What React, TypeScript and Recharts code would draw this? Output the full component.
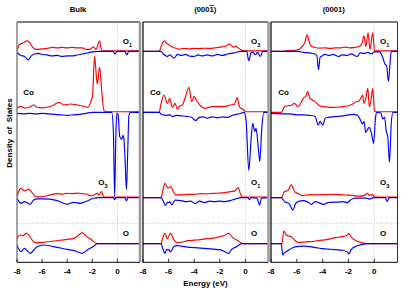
import React from "react";
import { LineChart, Line, XAxis, YAxis, ReferenceLine } from "recharts";

type Pt = [number, number];

const energyTicks = [-8, -6, -4, -2, 0];
const energyDomain: [number, number] = [-8, 1.8];

// Bulk
const bulkO1Up: Pt[] = [[-8, 1], [-7.8, 7], [-7.5, 8.5], [-7.2, 10.5], [-7.0, 9], [-6.8, 5], [-6.5, 2], [-6.0, 2.5], [-5.6, 3], [-5.2, 4], [-4.8, 3.5], [-4.4, 4], [-4.0, 3.5], [-3.6, 4], [-3.2, 3.5], [-2.8, 3.5], [-2.5, 2], [-2.2, 2], [-1.9, 4.5], [-1.7, 2], [-1.55, 7], [-1.42, 10.5], [-1.3, 3], [-1.2, 0.6], [1.8, 0.6]];
const bulkO1Dn: Pt[] = [[-8, 1], [-7.7, 4], [-7.4, 5], [-7.1, 8.5], [-6.9, 5], [-6.6, 2.5], [-6.3, 2], [-6.0, 3], [-5.6, 3.5], [-5.2, 4.5], [-4.8, 4], [-4.4, 5], [-4.0, 4.5], [-3.6, 4.5], [-3.2, 3.5], [-2.8, 2.5], [-2.4, 1.5], [-2.0, 0.5], [-1.5, 0], [-0.35, 0], [-0.2, 2.5], [-0.05, 0], [0.6, 0], [0.75, 3.5], [0.9, 0], [1.8, 0]];
const bulkCoUp: Pt[] = [[-8, 4], [-7.75, 6], [-7.35, 4.3], [-7.0, 5], [-6.67, 7.3], [-6.4, 5], [-6.0, 4.5], [-5.6, 5], [-5.07, 7.3], [-4.67, 10], [-4.27, 7.3], [-3.74, 8.3], [-3.2, 7.3], [-2.67, 6], [-2.35, 5], [-2.14, 10], [-1.98, 16.7], [-1.82, 56], [-1.68, 36.7], [-1.6, 28.3], [-1.42, 45], [-1.26, 23.3], [-1.07, 1.5], [-0.8, 0.6], [1.8, 0.6]];
const bulkCoDn: Pt[] = [[-8, 1], [-7.5, 1.5], [-7.0, 1], [-6.5, 1.5], [-6.0, 1], [-5.5, 1.5], [-5.0, 2], [-4.5, 2.5], [-4.0, 3], [-3.5, 2.5], [-3.0, 2], [-2.5, 1], [-2.0, 0], [-0.45, 0], [-0.32, 20], [-0.22, 84], [-0.12, 20], [-0.05, 1], [0.05, 2], [0.18, 24], [0.34, 27], [0.45, 23], [0.52, 27], [0.62, 50], [0.72, 77], [0.82, 40], [0.92, 3], [1.05, 0], [1.8, 0]];
const bulkO3Up: Pt[] = [[-8, 1], [-7.79, 8.3], [-7.68, 9.3], [-7.41, 6.7], [-7.07, 8.3], [-6.8, 5], [-6.5, 1], [-6.0, 0.8], [-5.34, 2.7], [-4.8, 4], [-4.4, 3.5], [-4.0, 4.3], [-3.6, 4], [-3.2, 4.5], [-2.8, 4], [-2.4, 3.3], [-2.13, 1.7], [-1.87, 2.7], [-1.6, 4.3], [-1.47, 2.5], [-1.28, 6], [-1.07, 0.5], [1.8, 0.5]];
const bulkO3Dn: Pt[] = [[-8, 0.7], [-7.79, 4.7], [-7.68, 5.7], [-7.41, 4], [-7.2, 5], [-6.95, 6.7], [-6.67, 2.3], [-6.4, 1.3], [-5.9, 1.3], [-5.4, 1.5], [-4.8, 3], [-4.0, 6.7], [-3.5, 4.7], [-2.95, 5.7], [-2.4, 3.3], [-1.9, 0.7], [-1.6, 0], [-0.35, 0], [-0.22, 2], [-0.1, 0], [0.6, 0], [0.72, 3.3], [0.85, 0], [1.8, 0]];
const bulkOUp: Pt[] = [[-8, 4.7], [-7.79, 8.7], [-7.53, 8], [-7.26, 10.3], [-7.07, 8.7], [-6.8, 3.7], [-6.53, 1], [-5.87, 1.3], [-5.07, 2.7], [-4.0, 4.3], [-3.47, 5.3], [-3.07, 8.7], [-2.8, 11], [-2.54, 8], [-2.14, 4.7], [-1.6, 0], [1.8, 0]];
const bulkODn: Pt[] = [[-8, 1.3], [-7.68, 8], [-7.41, 4.7], [-6.93, 9.7], [-6.67, 6.3], [-6.4, 3], [-5.87, 1.3], [-5.07, 3], [-4.0, 5.7], [-3.34, 7.3], [-2.8, 9.7], [-2.4, 6.3], [-1.87, 2.3], [-1.6, 0], [1.8, 0]];

// (000-1) surface
const negO3Up: Pt[] = [[-8, 0], [-6.75, 0], [-6.55, 6], [-6.36, 10.7], [-6.2, 8.5], [-5.97, 6.7], [-5.6, 4], [-5.19, 2.3], [-4.8, 3], [-4.4, 2.5], [-4.0, 3], [-3.6, 2.8], [-3.2, 3.2], [-2.8, 3], [-2.4, 3.5], [-2.0, 4.3], [-1.6, 5], [-1.22, 7.3], [-1.0, 4.5], [-0.78, 5], [-0.5, 3], [-0.13, 0.5], [1.8, 0.5]];
const negO3Dn: Pt[] = [[-8, 0], [-6.62, 0], [-6.36, 3], [-6.1, 5], [-5.9, 3.5], [-5.58, 6.7], [-5.3, 3], [-5.0, 4], [-4.7, 3], [-4.4, 4.5], [-4.02, 5], [-3.7, 3.5], [-3.37, 4.5], [-3.0, 3.5], [-2.6, 4.5], [-2.2, 3], [-1.8, 4], [-1.4, 2.5], [-0.9, 1.5], [-0.39, 0], [0.1, 0], [0.26, 9.3], [0.45, 1], [0.6, 1], [0.78, 3.3], [0.95, 1], [1.17, 5], [1.35, 0], [1.8, 0]];
const negCoUp: Pt[] = [[-8, 0], [-6.75, 0], [-6.6, 8], [-6.36, 17.3], [-6.1, 9], [-5.92, 14], [-5.71, 5], [-5.5, 9], [-5.32, 3.3], [-5.12, 6.3], [-4.93, 7.3], [-4.72, 14], [-4.41, 25], [-4.2, 10.7], [-4.02, 15.7], [-3.84, 12.3], [-3.5, 6.3], [-3.12, 4], [-2.6, 5.7], [-2.08, 5.7], [-1.56, 6], [-1.17, 7.3], [-0.85, 8], [-0.65, 14.7], [-0.47, 5.7], [-0.13, 2.3], [0, 0.6], [1.8, 0.6]];
const negCoDn: Pt[] = [[-8, 0], [-6.75, 0], [-6.5, 2.5], [-6.2, 3], [-5.9, 2.5], [-5.71, 4.3], [-5.4, 3], [-5.0, 3.5], [-4.6, 4], [-4.2, 5], [-3.9, 8.3], [-3.6, 5], [-3.3, 4.5], [-3.0, 6], [-2.6, 4.5], [-2.2, 5.5], [-1.8, 4.5], [-1.4, 5], [-1.0, 3], [-0.5, 1.5], [-0.1, 0], [0.05, 8], [0.26, 58], [0.45, 25], [0.57, 11], [0.73, 19], [0.83, 16], [1.0, 35], [1.12, 49], [1.28, 15], [1.43, 0], [1.8, 0]];
const negO1Up: Pt[] = [[-8, 0], [-6.6, 0], [-6.45, 7], [-6.28, 14.3], [-6.05, 9.3], [-5.84, 11], [-5.6, 5], [-5.45, 2.7], [-5.0, 2.7], [-4.5, 3.3], [-4.0, 3.3], [-3.5, 4], [-3.0, 3.8], [-2.5, 4.3], [-2.0, 4.5], [-1.6, 5], [-1.17, 6], [-0.85, 6.5], [-0.57, 10], [-0.4, 4], [-0.26, 0.6], [1.8, 0.6]];
const negO1Dn: Pt[] = [[-8, 0], [-6.6, 0], [-6.4, 4], [-6.25, 8], [-6.1, 4.5], [-6.0, 5], [-5.9, 4], [-5.75, 7.3], [-5.5, 2.5], [-5.0, 3], [-4.6, 4], [-4.3, 3.5], [-3.9, 6], [-3.6, 3.5], [-3.2, 5], [-2.8, 3.5], [-2.4, 4], [-2.0, 3.5], [-1.6, 4], [-1.2, 3], [-0.8, 1.5], [-0.35, 0], [0.2, 0], [0.3, 2], [0.45, 0], [0.9, 0.5], [1.1, 7.3], [1.25, 0.5], [1.8, 0]];
const negOUp: Pt[] = [[-8, 0], [-6.6, 0], [-6.45, 6], [-6.3, 10.3], [-6.1, 5], [-5.85, 10.3], [-5.6, 4], [-5.35, 1], [-5.0, 1.5], [-4.5, 3], [-4.0, 3.5], [-3.5, 4], [-3.0, 5], [-2.5, 5.5], [-2.0, 7], [-1.6, 8.5], [-1.3, 10.3], [-1.0, 6], [-0.6, 3], [-0.2, 0], [1.8, 0]];
const negODn: Pt[] = [[-8, 0], [-6.6, 0], [-6.45, 5], [-6.3, 9.7], [-6.15, 6], [-6.0, 6], [-5.85, 8], [-5.6, 3], [-5.35, 2], [-5.0, 2.5], [-4.5, 3.5], [-4.0, 4], [-3.5, 4.5], [-3.0, 5], [-2.5, 5.5], [-2.0, 6], [-1.6, 8], [-1.3, 9.7], [-1.1, 6], [-0.7, 3], [-0.3, 0], [1.8, 0]];

// (0001) surface
const posO1Up: Pt[] = [[-8, 0], [-7.1, 0], [-6.8, 0.8], [-6.3, 1], [-6.0, 1.5], [-5.77, 2.5], [-5.51, 6], [-5.38, 9], [-5.2, 16.7], [-5.05, 10], [-4.9, 5.5], [-4.6, 4], [-4.2, 3.3], [-3.8, 3.5], [-3.4, 3], [-3.0, 3.5], [-2.6, 3.5], [-2.3, 4.3], [-1.9, 3.5], [-1.5, 4], [-1.15, 5], [-0.95, 8], [-0.8, 15.7], [-0.65, 5], [-0.48, 18.5], [-0.33, 2], [-0.12, 18.5], [0.02, 1], [0.1, 0.6], [1.8, 0.6]];
const posO1Dn: Pt[] = [[-8, 0], [-5.9, 0], [-5.5, 1], [-5.0, 1.5], [-4.6, 2.5], [-4.45, 4], [-4.32, 18.3], [-4.2, 6], [-4.05, 4.5], [-3.8, 3], [-3.5, 4], [-3.2, 3], [-2.76, 5], [-2.5, 3.5], [-2.1, 4], [-1.8, 2.5], [-1.31, 5], [-1.1, 1.5], [-0.8, 2], [-0.5, 1], [-0.2, 2.5], [0, 0.5], [0.4, 0.5], [0.6, 4], [0.84, 13], [0.95, 14], [1.1, 30], [1.22, 12], [1.32, 0], [1.8, 0]];
const posCoUp: Pt[] = [[-8, 0], [-7.2, 0], [-6.95, 5.7], [-6.7, 6.5], [-6.43, 7], [-6.2, 9], [-6.03, 7], [-5.91, 5.7], [-5.7, 9], [-5.51, 14], [-5.3, 16], [-5.17, 20.7], [-4.98, 14], [-4.75, 12], [-4.59, 10.7], [-4.2, 6.3], [-3.8, 5.5], [-3.4, 5], [-3.0, 5], [-2.6, 5.5], [-2.09, 6.3], [-1.7, 8], [-1.5, 10], [-1.2, 11], [-1.0, 15], [-0.9, 17.3], [-0.8, 9], [-0.65, 14], [-0.5, 24], [-0.38, 5.7], [-0.22, 15], [-0.12, 24], [0.02, 1], [0.1, 0.6], [1.8, 0.6]];
const posCoDn: Pt[] = [[-8, 1], [-7.0, 1.5], [-6.5, 1.5], [-6.0, 2.5], [-5.5, 2.5], [-5.0, 3], [-4.6, 4], [-4.33, 12.7], [-4.2, 9], [-4.1, 11], [-3.98, 12.7], [-3.8, 6], [-3.54, 5], [-3.2, 4.5], [-2.8, 4], [-2.4, 3.5], [-2.0, 2.5], [-1.57, 2], [-1.3, 3], [-1.1, 7], [-0.92, 11.7], [-0.8, 9], [-0.66, 20], [-0.52, 17], [-0.39, 15], [-0.2, 22], [-0.05, 31], [0.1, 5], [0.2, 0], [0.5, 0.5], [0.66, 6.7], [0.8, 5], [0.92, 18], [1.05, 25], [1.18, 50], [1.32, 10], [1.45, 0], [1.8, 0]];
const posO3Up: Pt[] = [[-8, 0], [-7.2, 0], [-6.95, 6], [-6.7, 7], [-6.43, 12.7], [-6.3, 10], [-6.17, 6], [-5.9, 4], [-5.6, 2], [-5.2, 2.7], [-4.8, 3], [-4.4, 2.7], [-4.0, 3], [-3.6, 3], [-3.2, 3.3], [-2.8, 3], [-2.4, 2.7], [-2.0, 2.5], [-1.6, 2], [-1.2, 1.5], [-0.8, 2], [-0.52, 4.3], [-0.39, 2], [-0.3, 2.5], [-0.13, 3], [0, 0.6], [1.8, 0.6]];
const posO3Dn: Pt[] = [[-8, 0], [-7.2, 0], [-6.95, 4], [-6.6, 6], [-6.3, 12.3], [-6.1, 6], [-5.91, 4], [-5.5, 3], [-5.2, 4], [-4.85, 6.7], [-4.6, 4], [-4.3, 5], [-3.94, 6.7], [-3.6, 5], [-3.2, 4.5], [-2.8, 4.5], [-2.4, 4], [-2.09, 5], [-1.8, 2], [-1.5, 0.5], [-0.6, 0.5], [-0.4, 1.5], [0, 0], [0.85, 0], [1.0, 4], [1.15, 0], [1.8, 0]];
const posOUp: Pt[] = [[-8, 0], [-7.15, 0], [-7.01, 12.7], [-6.82, 8.7], [-6.6, 7.5], [-6.43, 7], [-6.2, 4], [-5.91, 1.3], [-5.5, 1.5], [-5.0, 2], [-4.5, 2.7], [-4.0, 3.5], [-3.5, 4.5], [-3.0, 6], [-2.5, 7], [-2.1, 8.5], [-1.97, 10.3], [-1.75, 6], [-1.4, 3], [-1.0, 1], [-0.52, 0], [1.8, 0]];
const posODn: Pt[] = [[-8, 0], [-7.2, 0], [-7.09, 11.3], [-6.95, 9], [-6.82, 8], [-6.6, 6], [-6.3, 4], [-6.03, 3], [-5.5, 2.5], [-5.0, 3], [-4.5, 4], [-4.0, 5], [-3.5, 5.5], [-3.0, 6], [-2.5, 6.5], [-2.1, 8], [-1.97, 10.3], [-1.8, 6], [-1.4, 2.5], [-1.0, 1], [-0.52, 0], [1.8, 0]];

// vertical offsets of the four stacked curves (y axis units)
const stackBase = [210.6, 149.8, 64.6, 18.6];
const sepLine = 39;
const yMax = 240;

type Species = { name: string; sub?: string; x: number; y: number };

type PanelSpec = {
  title: string;
  bar?: boolean;
  left: number;
  width: number;
  leftEdge: string;
  rightEdge: string;
  rightW: number;
  curves: [Pt[], Pt[]][];
  labels: Species[];
};

const panels: PanelSpec[] = [
  {
    title: "Bulk",
    left: 16.5,
    width: 123,
    leftEdge: "#666",
    rightEdge: "#999",
    rightW: 2.5,
    curves: [[bulkO1Up, bulkO1Dn], [bulkCoUp, bulkCoDn], [bulkO3Up, bulkO3Dn], [bulkOUp, bulkODn]],
    labels: [
      { name: "O", sub: "1", x: 122.7, y: 44 },
      { name: "Co", x: 23.3, y: 94.5 },
      { name: "O", sub: "3", x: 98.3, y: 185 },
      { name: "O", x: 122.7, y: 236 },
    ],
  },
  {
    title: "(0001)",
    bar: true,
    left: 142.5,
    width: 125.5,
    leftEdge: "#000",
    rightEdge: "#999",
    rightW: 2.5,
    curves: [[negO3Up, negO3Dn], [negCoUp, negCoDn], [negO1Up, negO1Dn], [negOUp, negODn]],
    labels: [
      { name: "O", sub: "3", x: 251, y: 44 },
      { name: "Co", x: 150, y: 95 },
      { name: "O", sub: "1", x: 251, y: 185 },
      { name: "O", x: 251, y: 236 },
    ],
  },
  {
    title: "(0001)",
    left: 270.5,
    width: 126.5,
    leftEdge: "#000",
    rightEdge: "#333",
    rightW: 1,
    curves: [[posO1Up, posO1Dn], [posCoUp, posCoDn], [posO3Up, posO3Dn], [posOUp, posODn]],
    labels: [
      { name: "O", sub: "1", x: 380, y: 44 },
      { name: "Co", x: 278.3, y: 95 },
      { name: "O", sub: "3", x: 380, y: 185 },
      { name: "O", x: 380, y: 236 },
    ],
  },
];

const rows = (pts: Pt[], base: number, sign: number) =>
  pts.map(([e, v]) => ({ e, y: base + sign * v }));

const BottomTick = (props: any) => {
  const { x, y, payload } = props;
  return (
    <g>
      <line x1={x} x2={x} y1={y} y2={y - 3.5} stroke="#000" strokeWidth={0.8} />
      <text x={x} y={y + 12} textAnchor="middle" fontSize={8} fontWeight="bold" fill="#000">
        {payload.value}
      </text>
    </g>
  );
};

const TopTick = (props: any) => {
  const { x, y } = props;
  return <line x1={x} x2={x} y1={y} y2={y + 3.5} stroke="#000" strokeWidth={0.8} />;
};

const pad = 8;

function Panel({ p }: { p: PanelSpec }) {
  return (
    <div style={{ position: "absolute", left: p.left - pad, top: 0 }}>
      <LineChart width={p.width + 2 * pad} height={291} margin={{ top: 22, right: pad, bottom: 14.7, left: pad }}>
        <XAxis
          dataKey="e"
          type="number"
          domain={energyDomain}
          ticks={energyTicks}
          interval={0}
          allowDataOverflow
          height={14}
          tickSize={0}
          tickMargin={0}
          axisLine={false}
          tickLine={false}
          tick={(t: any) => <BottomTick {...t} />}
        />
        <XAxis
          xAxisId="top"
          orientation="top"
          dataKey="e"
          type="number"
          domain={energyDomain}
          ticks={energyTicks}
          interval={0}
          allowDataOverflow
          height={0}
          tickSize={0}
          tickMargin={0}
          axisLine={false}
          tickLine={false}
          tick={(t: any) => <TopTick {...t} />}
        />
        <YAxis hide type="number" domain={[0, yMax]} allowDataOverflow />
        <ReferenceLine x={0} stroke="#aaa" strokeWidth={0.7} strokeDasharray="1 1.5" />
        <ReferenceLine y={sepLine} stroke="#aaa" strokeWidth={0.7} strokeDasharray="1 1.5" />
        {p.curves.map(([up], i) => (
          <Line
            key={"u" + i}
            data={rows(up, stackBase[i], 1)}
            dataKey="y"
            type="monotone"
            stroke="#ff0000"
            strokeWidth={1.15}
            dot={false}
            activeDot={false}
            isAnimationActive={false}
          />
        ))}
        {p.curves.map(([, dn], i) => (
          <Line
            key={"d" + i}
            data={rows(dn, stackBase[i], -1)}
            dataKey="y"
            type="monotone"
            stroke="#0000ff"
            strokeWidth={1.15}
            dot={false}
            activeDot={false}
            isAnimationActive={false}
          />
        ))}
        <ReferenceLine y={0} stroke="#000" strokeWidth={1} />
        <ReferenceLine y={yMax} stroke="#000" strokeWidth={1} />
        <ReferenceLine x={energyDomain[0]} stroke={p.leftEdge} strokeWidth={1.2} />
        <ReferenceLine x={energyDomain[1]} stroke={p.rightEdge} strokeWidth={p.rightW} />
      </LineChart>
    </div>
  );
}

const txt = { fontWeight: "bold" as const, fill: "#000" };

export default function App() {
  return (
    <div
      style={{
        position: "absolute",
        left: 0,
        top: 0,
        width: 415,
        height: 291,
        background: "#fff",
        fontFamily: "'Liberation Sans', Arial, Helvetica, sans-serif",
      }}
    >
      {panels.map((p, i) => (
        <Panel key={i} p={p} />
      ))}
      <svg width={415} height={291} style={{ position: "absolute", left: 0, top: 0, pointerEvents: "none" }}>
        {panels.map((p, i) => (
          <text key={"t" + i} x={p.left + p.width / 2} y={12} textAnchor="middle" fontSize={7.7} {...txt}>
            {p.bar ? (
              <>
                (000<tspan style={{ textDecoration: "overline" }}>1</tspan>)
              </>
            ) : (
              p.title
            )}
          </text>
        ))}
        {panels.map((p, i) =>
          p.labels.map((l, j) => (
            <text key={"l" + i + j} x={l.x} y={l.y} fontSize={8} {...txt}>
              {l.name}
              {l.sub && (
                <tspan fontSize={5.5} dy={2.5}>
                  {l.sub}
                </tspan>
              )}
            </text>
          ))
        )}
        <text x={205.5} y={286} textAnchor="middle" fontSize={8} {...txt}>
          Energy (eV)
        </text>
        <text
          transform="translate(12,133) rotate(-90)"
          textAnchor="middle"
          fontSize={8}
          xmlSpace="preserve"
          style={{ whiteSpace: "pre" }}
          {...txt}
        >
          Density  of  States
        </text>
      </svg>
    </div>
  );
}
